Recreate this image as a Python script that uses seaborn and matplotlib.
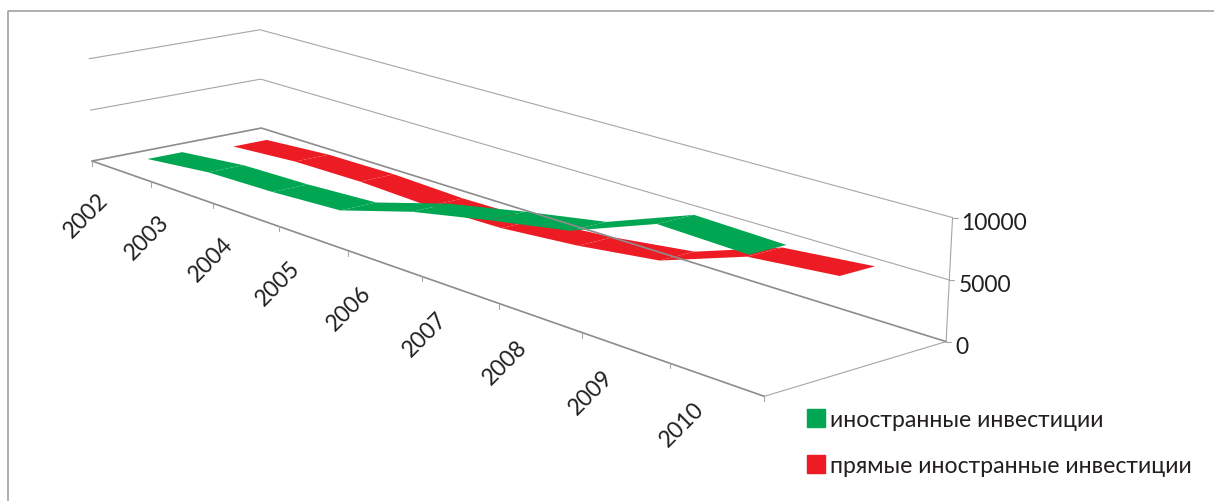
import numpy as np
import pandas as pd
import matplotlib.pyplot as plt
from matplotlib.patches import Patch
import seaborn as sns

# Chart data
years = ['2002', '2003', '2004', '2005', '2006', '2007', '2008', '2009', '2010']
foreign = [680, 1390, 1580, 1980, 3980, 5390, 6660, 9380, 9160]
foreign_direct = [240, 720, 800, 570, 690, 1310, 2260, 4840, 5540]
value_ticks = [0, 5000, 10000]
legend_labels = ['иностранные инвестиции', 'прямые иностранные инвестиции']

GREEN = '#00A651'
RED = '#ED1C24'
TEXT = '#231F20'
DARK_LINE = '#8C8C8C'
LIGHT_LINE = '#A6A6A6'

# Excel-like 3D box: (category share, depth share, value share) -> picture pixel
box_points = [
    (0, 0, 0, 92, 162), (1, 0, 0, 763, 397), (0, 1, 0, 262, 129), (1, 1, 0, 946, 343),
    (0, 1, .5, 260, 79), (0, 1, 1, 260, 32), (1, 1, .5, 949, 281), (1, 1, 1, 953, 218),
    (0, 0, .5, 91, 110), (0, 0, 1, 89, 60),
    (1/9, 0, 0, 150, 183), (2/9, 0, 0, 214, 205), (3/9, 0, 0, 279, 228),
    (4/9, 0, 0, 348, 251), (5/9, 0, 0, 421, 277), (8/9, 0, 0, 672, 365),
]
rows = []
for x, d, z, u, v in box_points:
    u /= 1000
    v /= 1000
    rows.append([x, d, z, 1, 0, 0, 0, 0, -u*x, -u*d, -u*z, -u])
    rows.append([0, 0, 0, 0, x, d, z, 1, -v*x, -v*d, -v*z, -v])
P = np.linalg.svd(np.array(rows))[2][-1].reshape(3, 4)


def project(x, d, value):
    vec = [x, d, value / max(value_ticks), 1]
    w = P[2] @ vec
    return 1000 * (P[0] @ vec) / w, 1000 * (P[1] @ vec) / w


sns.set_theme(style='white')
plt.rcParams['font.family'] = ['Lato', 'Open Sans', 'DejaVu Sans']

fig = plt.figure(figsize=(12.14, 5.02), dpi=100)
ax = fig.add_axes([0, 0, 1, 1])
ax.set_xlim(0, 1214)
ax.set_ylim(502, 0)
ax.axis('off')

# Outer chart frame
ax.plot([8, 8, 1214], [502, 12, 12], color='#9A9A9A', lw=1.1, clip_on=False)

# Walls and floor
top = max(value_ticks)
mid = value_ticks[1]
light = [[(0, 0, top), (0, 1, top), (1, 1, top)],
         [(0, 0, mid), (0, 1, mid), (1, 1, mid)],
         [(1, 0, 0), (1, 1, 0)],
         [(1, 1, 0), (1, 1, top)]]
dark = [[(0, 0, 0), (0, 1, 0), (1, 1, 0)],
        [(0, 0, 0), (1, 0, 0)]]


def edge_table(edges):
    recs = []
    for n, edge in enumerate(edges):
        for corner in edge:
            px, py = project(*corner)
            recs.append({'px': px, 'py': py, 'edge': n})
    return pd.DataFrame(recs)


sns.lineplot(data=edge_table(light), x='px', y='py', units='edge', estimator=None,
             sort=False, color=LIGHT_LINE, lw=0.8, ax=ax)
sns.lineplot(data=edge_table(dark), x='px', y='py', units='edge', estimator=None,
             sort=False, color=DARK_LINE, lw=1.2, ax=ax)

# Ribbons, back series first
for values, d0, d1, color in [(foreign_direct, 0.65, 0.85, RED), (foreign, 0.15, 0.35, GREEN)]:
    for i in range(len(years) - 1):
        x0 = (i + 0.5) / len(years)
        x1 = (i + 1.5) / len(years)
        corners = [project(x0, d0, values[i]), project(x1, d0, values[i + 1]),
                   project(x1, d1, values[i + 1]), project(x0, d1, values[i])]
        ax.fill(*zip(*corners), color=color, lw=0)

# Category ticks and labels
for i in range(len(years) + 1):
    px, py = project(i / len(years), 0, 0)
    ax.plot([px, px], [py, py + 5], color=LIGHT_LINE, lw=0.8)
for i, year in enumerate(years):
    px, py = project((i + 0.5) / len(years), 0, 0)
    ax.annotate(year, (px, py), xytext=(-35 * 0.72, -44 * 0.72), textcoords='offset points',
                rotation=45, ha='center', va='center', rotation_mode='anchor',
                fontsize=16.5, color=TEXT)

# Value ticks and labels
for tick in value_ticks:
    px, py = project(1, 1, tick)
    ax.plot([px, px + 5], [py, py], color=LIGHT_LINE, lw=0.8)
    ax.annotate(str(tick), (px, py), xytext=(9 * 0.72, -4.5 * 0.72), textcoords='offset points',
                ha='left', va='center', fontsize=16.5, color=TEXT)

# Legend
handles = [Patch(color=GREEN), Patch(color=RED)]
ax.legend(handles, legend_labels, loc='upper left', bbox_to_anchor=(807, 410),
          bbox_transform=ax.transData, frameon=False, borderpad=0, borderaxespad=0,
          fontsize=16.6, labelcolor=TEXT, handlelength=0.78, handleheight=0.78,
          handletextpad=0.22, labelspacing=1.08)

fig.savefig('out.png', dpi=100)
